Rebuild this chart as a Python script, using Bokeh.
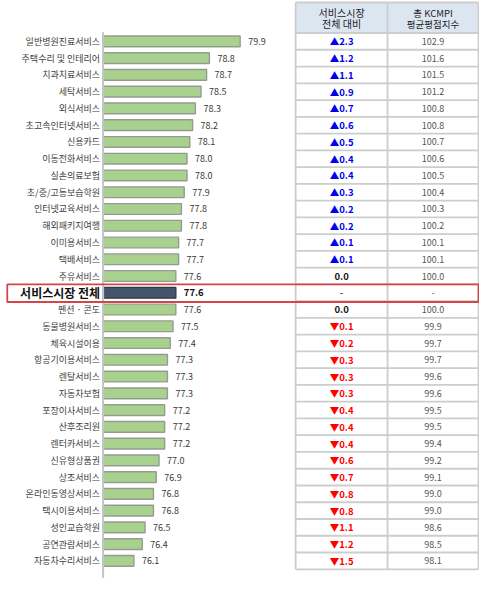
from bokeh.plotting import figure
from bokeh.models import Range1d, ColumnDataSource
from bokeh.core.properties import value
from bokeh.embed import file_html
from bokeh.resources import INLINE

categories = ["일반병원진료서비스", "주택수리 및 인테리어", "치과치료서비스", "세탁서비스", "외식서비스",
              "초고속인터넷서비스", "신용카드", "이동전화서비스", "실손의료보험", "초/중/고등보습학원",
              "인터넷교육서비스", "해외패키지여행", "이미용서비스", "택배서비스", "주유서비스",
              "서비스시장 전체", "펜션 · 콘도", "동물병원서비스", "체육시설이용", "항공기이용서비스",
              "렌탈서비스", "자동차보험", "포장이사서비스", "산후조리원", "렌터카서비스",
              "신유형상품권", "상조서비스", "온라인동영상서비스", "택시이용서비스", "성인교습학원",
              "공연관람서비스", "자동차수리서비스"]
scores = [79.9, 78.8, 78.7, 78.5, 78.3, 78.2, 78.1, 78.0, 78.0, 77.9, 77.8, 77.8, 77.7, 77.7, 77.6,
          77.6, 77.6, 77.5, 77.4, 77.3, 77.3, 77.3, 77.2, 77.2, 77.2, 77.0, 76.9, 76.8, 76.8, 76.5,
          76.4, 76.1]
diffs = [2.3, 1.2, 1.1, 0.9, 0.7, 0.6, 0.5, 0.4, 0.4, 0.3, 0.2, 0.2, 0.1, 0.1, 0.0,
         None, 0.0, -0.1, -0.2, -0.3, -0.3, -0.3, -0.4, -0.4, -0.4, -0.6, -0.7, -0.8, -0.8, -1.1,
         -1.2, -1.5]
kcmpi = [102.9, 101.6, 101.5, 101.2, 100.8, 100.8, 100.7, 100.6, 100.5, 100.4, 100.3, 100.2, 100.1,
         100.1, 100.0, None, 100.0, 99.9, 99.7, 99.7, 99.6, 99.6, 99.5, 99.5, 99.4, 99.2, 99.1, 99.0,
         99.0, 98.6, 98.5, 98.1]
header_col1 = ["서비스시장", "전체 대비"]
header_col2 = ["총 KCMPI", "평균평점지수"]
overall_label = "서비스시장 전체"

FONT = value("Noto Sans CJK KR")
n = len(categories)
idx = list(range(n))
hl = categories.index(overall_label)

p = figure(width=479, height=578, x_range=Range1d(71.33, 88.46), y_range=Range1d(32.05, -2.44),
           output_backend="svg", toolbar_location=None, min_border=0)
p.axis.visible = False
p.grid.visible = False
p.outline_line_color = None
p.extra_x_ranges = {"tbl": Range1d(0, 495)}

bar_colors = ["#44546a" if i == hl else "#a9d18e" for i in idx]
line_colors = ["#2f3b4b" if i == hl else "#969b92" for i in idx]
src = ColumnDataSource(dict(y=idx, score=scores, fc=bar_colors, lc=line_colors))
p.hbar(y="y", left=75, right="score", height=0.64, fill_color="fc", line_color="lc",
       line_width=1.4, source=src)

# axis line
p.segment(x0=[75], x1=[75], y0=[-0.55], y1=[n + 0.3], line_color="#c4c4c4", line_width=2)

# category labels
norm = [i for i in idx if i != hl]
p.text(x=[75] * len(norm), y=norm, text=[categories[i] for i in norm], x_offset=-3,
       text_align="right", text_baseline="middle", text_font=FONT,
       text_font_size="9px", text_color="#404040")
p.text(x=[75], y=[hl], text=[categories[hl]], x_offset=-3, text_align="right",
       text_baseline="middle", text_font=FONT, text_font_size="12px",
       text_font_style="bold", text_color="#111111")

# value labels
p.text(x=[scores[i] for i in norm], y=norm, text=[f"{scores[i]:.1f}" for i in norm], x_offset=8,
       text_align="left", text_baseline="middle", text_font=FONT, text_font_size="9px",
       text_color="#3a3a3a")
p.text(x=[scores[hl]], y=[hl], text=[f"{scores[hl]:.1f}"], x_offset=8, text_align="left",
       text_baseline="middle", text_font=FONT, text_font_size="9.5px", text_font_style="bold",
       text_color="#111111")

# table
c0, c1, c2 = 305, 400, 494
top = -2.32
p.quad(left=[c0], right=[c2], top=[top], bottom=[-0.5], fill_color="#dce6f1", line_color=None,
       x_range_name="tbl")
hy = [top] + [i - 0.5 for i in range(n + 1)]
p.segment(x0=[c0] * len(hy), x1=[c2] * len(hy), y0=hy, y1=hy, line_color="#cdcdcd",
          line_width=1.8, x_range_name="tbl")
p.segment(x0=[c0, c1, c2], x1=[c0, c1, c2], y0=[top] * 3, y1=[n - 0.5] * 3,
          line_color="#cdcdcd", line_width=1.8, x_range_name="tbl")

p.text(x=[(c0 + c1) / 2] * 2, y=[-1.72, -1.05], text=header_col1, text_align="center",
       text_baseline="middle", text_font=FONT, text_font_size="10px", text_color="#222222",
       x_range_name="tbl")
p.text(x=[(c1 + c2) / 2] * 2, y=[-1.72, -1.05], text=header_col2, text_align="center",
       text_baseline="middle", text_font=FONT, text_font_size="9.5px", text_color="#222222",
       x_range_name="tbl")

dtext, dcol = [], []
for d in diffs:
    if d is None:
        dtext.append("-"); dcol.append("#555555")
    elif d > 0:
        dtext.append(f"▲{d:.1f}"); dcol.append("#0000ee")
    elif d < 0:
        dtext.append(f"▼{abs(d):.1f}"); dcol.append("#ff0000")
    else:
        dtext.append(f"{d:.1f}"); dcol.append("#111111")
ktext = ["-" if k is None else f"{k:.1f}" for k in kcmpi]
tsrc = ColumnDataSource(dict(y=idx, dt=dtext, dc=dcol, kt=ktext,
                             x1=[(c0 + c1) / 2] * n, x2=[(c1 + c2) / 2] * n))
p.text(x="x1", y="y", text="dt", text_color="dc", text_align="center", text_baseline="middle",
       text_font=FONT, text_font_size="9.5px", text_font_style="bold", source=tsrc,
       x_range_name="tbl")
p.text(x="x2", y="y", text="kt", text_color="#555555", text_align="center",
       text_baseline="middle", text_font=FONT, text_font_size="9px", source=tsrc,
       x_range_name="tbl")

# highlight box
p.quad(left=[7], right=[c2], top=[hl - 0.5], bottom=[hl + 0.55], fill_color=None,
       line_color="#d64545", line_width=1.8, x_range_name="tbl")

open("out.html", "w").write(file_html(p, INLINE))
